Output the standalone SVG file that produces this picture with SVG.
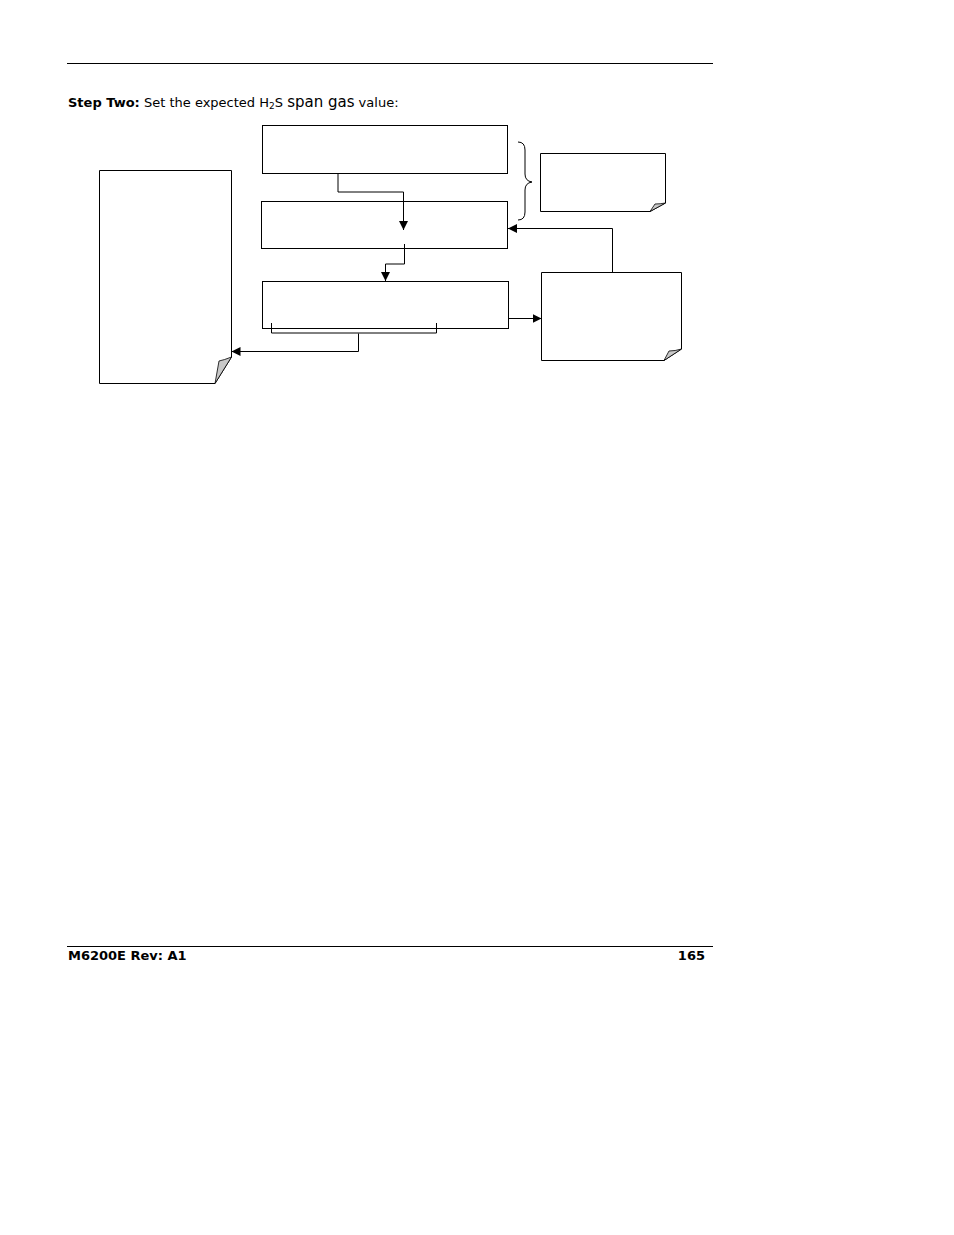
<svg xmlns="http://www.w3.org/2000/svg" width="954" height="1235" viewBox="0 0 954 1235">
<style>
.t{font-family:"DejaVu Sans","Verdana",sans-serif;font-size:13px;fill:#000}
.b{font-weight:bold}
.box{fill:#fff;stroke:#000;stroke-width:1}
.ln{fill:none;stroke:#000;stroke-width:1}
.fold{fill:#c8c8c8;stroke:#000;stroke-width:0.8}
</style>
<defs>
<marker id="ah" viewBox="0 0 10 10" refX="10" refY="5" markerWidth="9" markerHeight="9" markerUnits="userSpaceOnUse" orient="auto">
<path d="M0,0 L10,5 L0,10 Z" fill="#000"/>
</marker>
</defs>
<rect width="954" height="1235" fill="#fff"/>
<line x1="67" y1="63.5" x2="713" y2="63.5" stroke="#000" stroke-width="1"/>
<text class="t" x="68" y="107"><tspan class="b">Step Two:</tspan> Set the expected H<tspan font-size="9" dy="2">2</tspan><tspan dy="-2">S </tspan><tspan font-size="15">span gas</tspan> value:</text>

<g id="box1"><rect class="box" x="262.5" y="125.5" width="245" height="48"/></g>
<g id="box2"><rect class="box" x="261.5" y="201.5" width="246" height="47"/></g>
<g id="box3"><rect class="box" x="262.5" y="281.5" width="246" height="47"/></g>

<g id="leftnote">
<path class="box" d="M99.5,170.5 H231.5 V357 L215,383.5 H99.5 Z"/>
<path class="fold" d="M215,383.5 L219,361 Q224,360 231.5,357 Z"/>
</g>
<g id="topnote">
<path class="box" d="M540.5,153.5 H665.5 V203 L650,211.5 H540.5 Z"/>
<path class="fold" d="M650,211.5 L655,204 Q660,204 665.5,203 Z"/>
</g>
<g id="rightnote">
<path class="box" d="M541.5,272.5 H681.5 V349 L664,360.5 H541.5 Z"/>
<path class="fold" d="M664,360.5 L669,351 Q675,351 681.5,349 Z"/>
</g>
<g id="brace">
<path class="ln" d="M518,142 Q525,142 525,150 V174 Q525,181 532,182 Q525,183 525,190 V212 Q525,220 518,220"/>
</g>

<g id="connectors">
<path class="ln" d="M338,173 V192 H403.5 V230" marker-end="url(#ah)"/>
<path class="ln" d="M404.5,244 V264 H385.5 V281" marker-end="url(#ah)"/>
<path class="ln" d="M271.5,323 V333 H436.5 V323" stroke-width="1.6"/>
<path class="ln" d="M358.5,333.5 V351.5 H231.5" marker-end="url(#ah)"/>
<path class="ln" d="M508.5,318.5 H541.5" marker-end="url(#ah)"/>
<path class="ln" d="M612.5,272 V228.5 H508" marker-end="url(#ah)"/>
</g>

<line x1="67" y1="946.5" x2="713" y2="946.5" stroke="#000" stroke-width="1"/>
<text class="t b" x="68" y="960">M6200E Rev: A1</text>
<text class="t b" x="705" y="960" text-anchor="end">165</text>
</svg>
